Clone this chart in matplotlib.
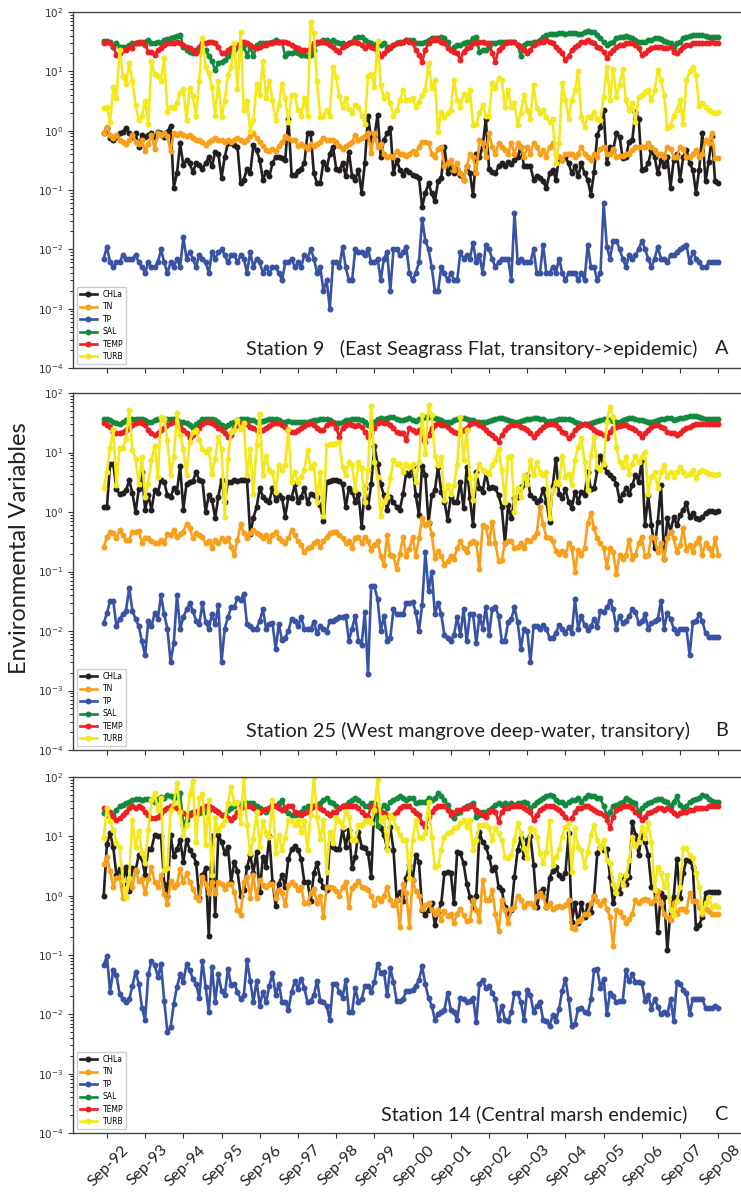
import numpy as np
import matplotlib.pyplot as plt
from matplotlib import transforms

# ---- tick labels (one per September, Sep-92 .. Sep-08) ----
years = ['92', '93', '94', '95', '96', '97', '98', '99', '00',
         '01', '02', '03', '04', '05', '06', '07', '08']
tick_labels = ['Sep-' + y for y in years]
variables = ['CHLa', 'TN', 'TP', 'SAL', 'TEMP', 'TURB']
station_titles = ['Station 9   (East Seagrass Flat, transitory->epidemic)',
                  'Station 25 (West mangrove deep-water, transitory)',
                  'Station 14 (Central marsh endemic)']
panel_letters = ['A', 'B', 'C']

# ---- monthly series, Aug-92 .. Sep-08 (one row = Aug..Jul) ----
# Station 9
chla_a = [0.9, 1.1, 0.74, 0.7, 0.79, 0.9, 0.96, 1.1, 0.9, 0.79, 0.9, 0.54,
          0.85, 0.79, 0.85, 0.9, 0.79, 0.96, 0.9, 0.79, 0.96, 1.2, 0.11, 0.19,
          0.61, 0.26, 0.32, 0.28, 0.2, 0.28, 0.26, 0.23, 0.28, 0.36, 0.25, 0.44,
          0.41, 0.16, 0.36, 0.61, 0.61, 0.57, 0.54, 0.13, 0.15, 0.23, 0.19, 0.57,
          0.47, 0.32, 0.15, 0.2, 0.17, 0.28, 0.36, 0.36, 0.34, 0.32, 1.6, 0.18,
          0.18, 0.21, 0.23, 0.28, 0.9, 0.9, 0.19, 0.13, 0.13, 0.3, 0.23, 0.41,
          0.54, 0.23, 0.22, 0.28, 0.17, 0.44, 0.17, 0.15, 0.22, 0.09, 0.28, 1.8,
          0.7, 0.79, 1.84, 0.36, 0.7, 0.9, 1.1, 0.19, 0.32, 0.22, 0.18, 0.22,
          0.2, 0.18, 0.17, 0.16, 0.052, 0.088, 0.13, 0.088, 0.064, 0.14, 0.16, 0.54,
          0.19, 0.25, 0.19, 0.23, 0.18, 0.15, 0.25, 0.19, 0.082, 0.41, 0.36, 0.54,
          1.6, 0.23, 0.2, 0.19, 0.25, 0.28, 0.25, 0.3, 0.27, 0.32, 0.36, 0.54,
          0.25, 0.25, 0.25, 0.15, 0.17, 0.16, 0.14, 0.107, 0.19, 0.22, 0.15, 0.36,
          0.32, 0.36, 0.28, 0.19, 0.25, 0.17, 0.28, 0.19, 0.15, 0.082, 0.2, 0.85,
          1.17, 2.2, 0.28, 0.54, 0.47, 0.9, 0.79, 0.34, 0.36, 0.65, 0.7, 2.1,
          1.6, 0.22, 0.23, 0.28, 0.47, 0.36, 0.19, 0.32, 0.25, 0.36, 0.11, 0.32,
          0.41, 0.15, 0.36, 0.47, 0.28, 0.22, 0.09, 0.22, 0.9, 0.14, 0.3, 0.8,
          0.14, 0.13]
tn_a = [0.9, 1.15, 0.85, 0.75, 0.85, 0.7, 0.65, 0.6, 0.7, 0.85, 0.65, 0.6,
        0.7, 0.45, 0.6, 0.85, 0.5, 0.9, 0.85, 0.9, 0.8, 0.45, 0.9, 0.85,
        0.9, 0.85, 0.8, 0.85, 0.75, 0.7, 0.7, 0.65, 0.57, 0.65, 0.7, 0.75,
        0.7, 0.7, 0.65, 0.7, 0.65, 0.7, 0.75, 0.7, 0.65, 0.7, 0.8, 0.9,
        0.75, 0.65, 0.55, 0.48, 0.45, 0.5, 0.45, 0.55, 0.65, 0.8, 0.75, 0.7,
        0.7, 0.55, 0.6, 0.55, 0.5, 0.6, 0.55, 0.6, 0.65, 0.75, 0.7, 0.7,
        0.7, 0.65, 0.55, 0.5, 0.55, 0.6, 0.65, 0.85, 0.7, 0.75, 0.8, 0.9,
        0.42, 0.9, 0.54, 0.6, 0.41, 0.36, 0.38, 0.36, 0.45, 0.41, 0.41, 0.38,
        0.41, 0.45, 0.41, 0.54, 0.65, 0.65, 0.61, 0.41, 0.36, 0.5, 0.54, 0.25,
        0.28, 0.32, 0.22, 0.28, 0.19, 0.15, 0.25, 0.41, 0.36, 0.19, 0.7, 0.61,
        0.36, 0.9, 0.54, 0.41, 0.61, 0.54, 0.47, 0.41, 0.61, 0.41, 0.61, 0.54,
        0.36, 0.54, 0.41, 0.61, 0.54, 0.41, 0.47, 0.36, 0.54, 0.61, 0.41, 0.36,
        0.32, 0.41, 0.41, 0.41, 0.36, 0.41, 0.54, 0.41, 0.36, 0.32, 0.41, 0.36,
        0.5, 0.54, 0.41, 0.4, 0.5, 0.36, 0.38, 0.38, 0.41, 0.41, 0.47, 0.54,
        0.54, 0.54, 0.54, 0.61, 0.54, 0.47, 0.41, 0.41, 0.36, 0.54, 0.5, 0.36,
        0.36, 0.54, 0.5, 0.36, 0.36, 0.41, 0.47, 0.36, 0.41, 0.7, 0.61, 0.9,
        0.34, 0.34]
tp_a = [0.007, 0.011, 0.006, 0.005, 0.006, 0.006, 0.008, 0.007, 0.007, 0.007, 0.008, 0.006,
        0.005, 0.004, 0.006, 0.005, 0.005, 0.006, 0.010, 0.006, 0.004, 0.006, 0.005, 0.007,
        0.005, 0.016, 0.007, 0.009, 0.007, 0.005, 0.008, 0.007, 0.006, 0.004, 0.009, 0.007,
        0.009, 0.010, 0.008, 0.006, 0.008, 0.008, 0.006, 0.008, 0.007, 0.004, 0.009, 0.005,
        0.007, 0.006, 0.004, 0.005, 0.004, 0.005, 0.005, 0.004, 0.003, 0.006, 0.006, 0.007,
        0.005, 0.006, 0.005, 0.008, 0.007, 0.010, 0.007, 0.004, 0.005, 0.002, 0.003, 0.001,
        0.006, 0.006, 0.005, 0.011, 0.005, 0.003, 0.003, 0.010, 0.009, 0.009, 0.008, 0.010,
        0.006, 0.006, 0.007, 0.003, 0.007, 0.009, 0.002, 0.010, 0.010, 0.008, 0.009, 0.011,
        0.004, 0.003, 0.004, 0.006, 0.033, 0.014, 0.010, 0.005, 0.002, 0.002, 0.005, 0.004,
        0.003, 0.004, 0.003, 0.003, 0.009, 0.007, 0.008, 0.007, 0.013, 0.006, 0.008, 0.004,
        0.012, 0.010, 0.007, 0.005, 0.006, 0.007, 0.007, 0.007, 0.003, 0.041, 0.006, 0.007,
        0.006, 0.006, 0.006, 0.010, 0.004, 0.004, 0.012, 0.004, 0.004, 0.005, 0.004, 0.007,
        0.004, 0.003, 0.004, 0.004, 0.004, 0.003, 0.004, 0.003, 0.012, 0.005, 0.005, 0.003,
        0.004, 0.060, 0.011, 0.007, 0.014, 0.014, 0.010, 0.007, 0.005, 0.008, 0.007, 0.008,
        0.010, 0.014, 0.010, 0.007, 0.005, 0.007, 0.011, 0.007, 0.007, 0.006, 0.008, 0.008,
        0.009, 0.010, 0.011, 0.012, 0.006, 0.009, 0.007, 0.006, 0.005, 0.005, 0.006, 0.006,
        0.006, 0.006]
sal_a = [33, 33, 31, 26, 30, 26, 26, 26, 28, 30.5, 30, 30.5,
         30, 31.5, 34, 30.5, 30.5, 31.5, 30.5, 34, 35, 36, 38, 39,
         41, 26, 23, 21.5, 20, 23, 23, 23, 23, 18, 15, 10.5,
         13.6, 14.5, 15.5, 18, 20, 23, 26, 24.5, 28, 18, 26, 18,
         28, 30, 30, 30, 30, 31.5, 34, 31.5, 31.5, 18, 20, 20,
         21.5, 20, 19, 19, 18, 19, 23, 30, 31.5, 34, 34, 31.5,
         34, 31.5, 30.5, 30, 28, 30, 31.5, 36, 38, 38, 34, 31.5,
         30, 28, 31.5, 28, 30, 26, 24.5, 28, 30, 31.5, 31.5, 34,
         34, 34, 30, 30, 30, 31.5, 34, 36, 34, 36, 38, 36,
         31.5, 23, 26, 28, 28, 30, 31.5, 31.5, 36, 38, 21.5, 23,
         23, 26, 30, 30, 31.5, 31.5, 31.5, 31.5, 31.5, 31.5, 28, 18,
         28, 30, 30, 31.5, 31.5, 34, 38, 41, 42, 42, 43, 44,
         44, 43, 44, 44, 44, 43, 43, 46, 48.5, 46, 46, 41,
         36, 31.5, 28, 30, 31.5, 36, 38, 38, 39, 38, 36, 34,
         31.5, 31.5, 31.5, 34, 34, 36, 36, 34.5, 33, 31.5, 30, 26,
         30, 31.5, 36, 38, 39, 41, 41, 41, 41, 39, 38, 38,
         38, 38]
temp_a = [30, 31.5, 30, 26, 19, 20, 23, 23, 26, 24.5, 30, 31.5,
          31.5, 28, 21.5, 21.5, 19, 23, 24.5, 28, 30, 30, 30.5, 31.5,
          30.5, 28, 26, 24.5, 23, 20, 26, 30, 30.5, 31.5, 31.5, 30,
          26, 20, 20, 23, 24.5, 26, 28, 30, 31.5, 30, 28, 26,
          24.5, 26, 28, 28, 30, 30, 31.5, 31.5, 31.5, 31.5, 30, 28,
          26, 24.5, 23, 23, 23, 24.5, 30, 31.5, 31.5, 31.5, 30.5, 28,
          26, 23, 21.5, 26, 28, 30, 31.5, 31.5, 30, 28, 24.5, 28,
          26, 24.5, 20, 18, 20, 23, 26, 28, 30, 30.5, 31.5, 34,
          31.5, 30, 23, 19, 14.5, 23, 30, 34, 36, 34, 31.5, 30,
          24.5, 23, 21.5, 20, 15.5, 21.5, 24.5, 26, 30, 30, 31.5, 31.5,
          30, 30, 20, 14.5, 23, 26, 30, 31.5, 31.5, 31.5, 28, 26,
          23, 20, 23, 28, 30, 31.5, 31.5, 34, 31.5, 30, 26, 23,
          20, 15.5, 18, 23, 26, 28, 31.5, 31.5, 34, 31.5, 30, 26,
          24.5, 21.5, 17, 20, 23, 26, 28, 28, 30, 30, 30.5, 28,
          24.5, 19, 20, 23, 24.5, 26, 26, 26, 24.5, 24.5, 26, 21.5,
          20, 23, 26, 28, 28, 30, 30, 30.5, 30, 30, 30.5, 31,
          30, 30]
turb_a = [2.4, 2.5, 1.4, 5.5, 3.5, 23, 8.5, 6, 14, 7, 2.7, 1.5,
          1.8, 3.2, 1.3, 15, 9, 8.5, 7, 17, 2.1, 2.5, 2.4, 2.9,
          4.3, 5, 1.5, 5.2, 3.8, 1.8, 7, 36, 12, 9.2, 5.5, 1.8,
          7, 1.7, 3.2, 8.6, 12, 30, 5, 46, 2.2, 3.2, 1.0, 1.5,
          6, 4, 15, 3.5, 7, 3.3, 1.5, 2.7, 6, 3.5, 1.4, 4,
          4, 2.2, 1.8, 3.5, 1.8, 68, 44, 6.8, 1.7, 1.8, 2.2, 1.8,
          12, 8, 3.8, 2.5, 3.5, 2.3, 2.0, 2.7, 2.5, 1.8, 1.3, 8.5,
          9, 5.5, 33, 5.9, 3.5, 4.2, 2.9, 1.8, 2.2, 3.3, 4.8, 3.3,
          3.3, 3.5, 2.5, 3.1, 4.0, 4.8, 14, 5.2, 7.1, 0.96, 2.1, 1.7,
          1.95, 2.2, 7.1, 3.3, 2.5, 4.2, 3.3, 4.8, 1.25, 1.3, 1.95, 2.7,
          1.8, 1.8, 6.3, 5.2, 7.6, 7.1, 2.5, 4.8, 2.5, 2.9, 1.25, 2.0,
          4.0, 2.2, 1.6, 5.8, 2.4, 1.95, 2.2, 1.7, 1.4, 1.6, 0.28, 0.61,
          6.3, 3.3, 1.6, 3.3, 4.8, 10, 1.7, 1.17, 1.7, 1.7, 2.1, 1.6,
          1.5, 3.7, 12, 3.3, 11, 3.7, 5.9, 11, 3.3, 2.2, 2.9, 1.4,
          3.7, 4.0, 4.5, 4.8, 3.3, 4.8, 10.5, 7.1, 4.0, 1.1, 1.2, 1.8,
          2.2, 3.3, 1.3, 7.1, 10, 12, 8.7, 2.6, 2.9, 2.5, 2.2, 2.1,
          2.0, 2.1]

# Station 25
chla_b = [1.2, 1.2, 6.3, 6.3, 2.4, 2.0, 2.1, 2.3, 3.4, 2.1, 1.0, 2.4,
          4.7, 1.1, 1.9, 1.1, 2.3, 2.1, 3.5, 3.2, 1.9, 1.8, 2.5, 2.2,
          6.0, 1.1, 3.0, 3.2, 3.3, 4.7, 3.4, 3.3, 1.0, 1.9, 1.6, 0.8,
          1.8, 3.5, 1.5, 3.2, 3.2, 3.5, 3.3, 3.5, 3.4, 3.5, 0.42, 0.8,
          1.2, 2.5, 1.8, 1.6, 1.5, 2.5, 1.6, 1.9, 1.7, 0.84, 1.8, 1.7,
          2.9, 1.5, 1.8, 2.5, 1.4, 2.0, 1.9, 1.8, 1.3, 0.7, 3.2, 3.3,
          3.4, 3.4, 3.3, 2.9, 1.2, 2.5, 2.2, 1.5, 2.0, 0.57, 2.5, 1.2,
          2.9, 13, 6.5, 2.9, 1.9, 1.1, 1.8, 1.5, 1.2, 1.1, 2.0, 4.6,
          4.2, 6.0, 1.9, 0.89, 6.0, 4.2, 0.65, 1.9, 2.3, 5.7, 2.2, 1.5,
          0.74, 1.8, 1.5, 1.5, 3.2, 1.15, 5.7, 1.7, 0.6, 4.7, 2.5, 2.2,
          4.5, 2.5, 2.6, 2.5, 1.9, 1.2, 0.3, 1.3, 0.78, 1.7, 1.8, 2.6,
          2.9, 4.2, 1.9, 1.7, 1.5, 1.6, 2.4, 1.5, 0.69, 2.7, 7.9, 2.0,
          1.7, 2.4, 1.5, 1.15, 2.2, 1.5, 2.2, 1.9, 4.7, 2.4, 2.5, 5.0,
          8.9, 6.0, 4.7, 4.2, 3.7, 3.0, 1.6, 2.0, 2.5, 2.0, 2.8, 4.2,
          3.2, 7.5, 0.6, 1.9, 0.6, 0.25, 0.69, 2.8, 0.165, 0.78, 0.47, 0.82,
          0.6, 0.89, 1.1, 1.4, 0.82, 0.96, 0.78, 0.77, 0.82, 0.96, 1.05, 1.05,
          1.0, 1.05]
tn_b = [0.26, 0.38, 0.47, 0.44, 0.36, 0.5, 0.41, 0.34, 0.34, 0.47, 0.47, 0.48,
        0.3, 0.36, 0.36, 0.32, 0.3, 0.3, 0.34, 0.3, 0.42, 0.41, 0.49, 0.38,
        0.42, 0.47, 0.63, 0.53, 0.36, 0.44, 0.41, 0.38, 0.3, 0.32, 0.25, 0.34,
        0.3, 0.36, 0.32, 0.36, 0.26, 0.19, 0.34, 0.63, 0.44, 0.36, 0.44, 0.5,
        0.44, 0.41, 0.36, 0.41, 0.32, 0.41, 0.47, 0.36, 0.32, 0.3, 0.36, 0.5,
        0.41, 0.32, 0.28, 0.21, 0.25, 0.26, 0.3, 0.32, 0.26, 0.32, 0.38, 0.44,
        0.47, 0.47, 0.41, 0.36, 0.3, 0.32, 0.25, 0.36, 0.38, 0.3, 0.38, 0.32,
        0.23, 0.28, 0.32, 0.18, 0.13, 0.41, 0.19, 0.18, 0.11, 0.2, 0.38, 0.18,
        0.24, 0.38, 0.18, 0.36, 0.78, 0.6, 0.69, 0.43, 0.17, 0.22, 0.18, 0.13,
        0.15, 0.18, 0.165, 0.25, 0.32, 0.25, 0.21, 0.3, 0.32, 0.3, 0.11, 0.6,
        0.57, 0.3, 0.69, 0.3, 0.15, 0.155, 0.3, 0.32, 0.32, 0.25, 0.26, 0.3,
        0.25, 0.34, 0.32, 0.38, 0.44, 1.2, 0.62, 0.38, 0.36, 0.32, 0.22, 0.2,
        0.22, 0.19, 0.3, 0.25, 0.1, 0.23, 0.19, 0.25, 0.65, 0.95, 0.53, 0.36,
        0.3, 0.25, 0.12, 0.25, 0.21, 0.09, 0.19, 0.165, 0.19, 0.34, 0.165, 0.19,
        0.3, 0.38, 0.18, 0.19, 0.38, 0.36, 0.21, 0.3, 0.165, 0.36, 0.47, 0.36,
        0.21, 0.28, 0.53, 0.23, 0.28, 0.21, 0.3, 0.36, 0.19, 0.3, 0.25, 0.19,
        0.36, 0.19]
tp_b = [0.0135, 0.02, 0.032, 0.032, 0.012, 0.016, 0.019, 0.022, 0.053, 0.022, 0.016, 0.012,
        0.0067, 0.0039, 0.015, 0.012, 0.02, 0.016, 0.04, 0.019, 0.011, 0.003, 0.0063, 0.04,
        0.011, 0.017, 0.023, 0.029, 0.022, 0.015, 0.013, 0.029, 0.014, 0.011, 0.019, 0.013,
        0.027, 0.003, 0.011, 0.017, 0.025, 0.025, 0.036, 0.033, 0.042, 0.013, 0.012, 0.011,
        0.011, 0.015, 0.023, 0.011, 0.013, 0.0135, 0.005, 0.013, 0.007, 0.0077, 0.010, 0.016,
        0.015, 0.012, 0.017, 0.011, 0.011, 0.011, 0.014, 0.0093, 0.012, 0.011, 0.0096, 0.015,
        0.015, 0.016, 0.017, 0.017, 0.018, 0.0069, 0.011, 0.018, 0.0069, 0.0059, 0.021, 0.0019,
        0.058, 0.057, 0.034, 0.01, 0.018, 0.0069, 0.0077, 0.023, 0.019, 0.019, 0.019, 0.029,
        0.029, 0.031, 0.021, 0.01, 0.027, 0.21, 0.047, 0.1, 0.019, 0.03, 0.019, 0.0086,
        0.0077, 0.0067, 0.0086, 0.017, 0.0086, 0.023, 0.0067, 0.019, 0.019, 0.0062, 0.018, 0.011,
        0.025, 0.0086, 0.023, 0.025, 0.018, 0.0069, 0.0069, 0.014, 0.016, 0.025, 0.014, 0.005,
        0.011, 0.01, 0.003, 0.012, 0.012, 0.011, 0.0125, 0.011, 0.0077, 0.0077, 0.0093, 0.0125,
        0.011, 0.0093, 0.0115, 0.0093, 0.034, 0.011, 0.018, 0.0125, 0.0105, 0.012, 0.016, 0.0115,
        0.022, 0.021, 0.025, 0.032, 0.023, 0.011, 0.018, 0.0135, 0.0145, 0.018, 0.023, 0.021,
        0.0135, 0.0145, 0.019, 0.011, 0.0135, 0.0145, 0.016, 0.032, 0.011, 0.02, 0.016, 0.011,
        0.0093, 0.011, 0.011, 0.011, 0.0039, 0.014, 0.0145, 0.019, 0.0145, 0.0093, 0.008, 0.008,
        0.008, 0.008]
sal_b = [36, 36, 35, 33, 31, 30, 32, 35, 35, 37, 37, 37,
         36.5, 35, 33, 33, 35, 37, 37, 36.5, 37, 37, 36.5, 35,
         33, 33, 31, 29, 25.5, 30, 33, 36, 37, 37, 36.5, 35,
         33, 29, 27, 29, 31, 33, 35, 37, 37, 36.5, 35, 35,
         33, 33, 34, 35, 37, 36.5, 37, 35, 33, 33, 34, 33,
         33, 32, 32, 32, 33, 34, 35, 35, 36, 37, 36.5, 35,
         33, 31, 31, 33, 35, 35, 37, 36.5, 37, 35, 33, 29,
         31, 33, 37, 38, 37, 38, 40, 40, 37, 35, 35, 36,
         38, 35, 34, 36, 38, 40, 40, 40, 38, 37, 35, 33,
         33, 33, 35, 37, 38, 38, 37, 35, 35, 33, 33, 33,
         33, 34, 35, 37, 38, 38, 37, 35, 34, 33, 33, 34,
         35, 37, 37, 38, 38, 37, 36, 34, 34, 34, 35, 37,
         37, 37, 36, 35, 33, 31, 30, 30, 30, 31, 33, 34,
         35, 36, 37, 35, 34, 33, 33, 35, 37, 38, 38, 37,
         35, 35, 34, 33, 33, 34, 35, 36, 37, 38, 38, 35,
         37, 38, 38, 40, 41.5, 41.5, 41.5, 40, 38, 37, 37, 37,
         37, 37]
temp_b = [31, 29, 27, 22, 21, 21, 22, 24, 25.5, 29, 31, 33,
          31, 29, 24, 21, 19.6, 21, 24, 25.5, 29, 31, 33, 31,
          27, 24, 21, 17.3, 19.6, 22, 25.5, 29.6, 32, 32, 31, 29,
          25.5, 24, 21, 18.4, 20, 25.5, 29, 31, 31, 30, 27, 25.5,
          24, 23, 24, 25.5, 28, 30, 31, 31, 29, 27, 24, 22,
          22, 24, 25.5, 28, 30, 31, 29, 25.5, 24, 24, 29, 31,
          31, 25.5, 18.4, 25.5, 29, 30, 29, 28, 29, 27, 22, 18.4,
          21, 25.5, 31, 33, 31, 31, 29, 25.5, 22, 21, 21, 16.2,
          25.5, 23.8, 22.3, 23.8, 17.3, 15.2, 19.6, 25.5, 29, 31, 29, 29,
          27, 24, 22, 21, 21, 24, 25.5, 30, 31, 31, 29, 27,
          24, 21, 19.6, 17.3, 15.2, 19.6, 24, 27, 29, 29, 29, 27,
          25.5, 24, 21, 18.4, 21, 24, 27, 29, 30, 30, 29, 25.5,
          22.3, 21, 17.3, 19.6, 24, 27, 29, 30, 29, 27, 24, 22,
          21, 19.6, 17.3, 22, 25.5, 27, 28, 29, 29, 27, 25.5, 24,
          21, 18.4, 21, 24, 27, 29, 29, 27, 25.5, 22, 21, 21,
          19.6, 21, 24, 25.5, 27, 29, 30, 30, 30, 30, 30, 30,
          30, 30]
turb_b = [2.5, 4.7, 12, 25, 2.8, 12, 12, 17, 52, 11, 7.9, 3.0,
          8.4, 1.8, 3.0, 7.4, 13, 3.9, 40, 37, 16, 4.2, 8.4, 46,
          19.6, 11.6, 4.2, 15.2, 22, 24, 16, 11.6, 10.2, 11.3, 4.4, 7.9,
          18.4, 11.6, 0.83, 7.9, 22, 24, 35, 25, 31, 4.2, 11.3, 2.0,
          13.3, 45, 4.2, 8.9, 5.0, 4.7, 2.2, 6.1, 5.0, 6.1, 25, 3.2,
          4.7, 3.2, 3.9, 5.0, 11, 5.4, 6.5, 1.5, 4.7, 0.87, 13.3, 14,
          14, 14.5, 15.2, 5.7, 4.2, 6.9, 6.1, 2.3, 6.9, 5.4, 1.5, 5.0,
          61, 6.9, 3.9, 0.87, 1.5, 1.8, 3.7, 7.4, 6.5, 6.5, 4.7, 6.5,
          5.7, 6.5, 3.2, 6.9, 43, 9.5, 63, 43, 8.9, 6.1, 8.4, 1.6,
          2.8, 2.0, 2.8, 6.1, 40, 7.4, 24, 3.7, 1.6, 4.2, 6.5, 5.0,
          4.7, 4.4, 6.1, 7.4, 11.6, 5.0, 1.5, 8.4, 8.9, 1.0, 2.5, 1.8,
          4.2, 3.0, 7.4, 4.2, 6.9, 4.7, 4.2, 4.7, 0.78, 2.3, 3.2, 3.0,
          8.9, 3.9, 4.4, 2.8, 7.4, 12.4, 17.3, 6.9, 2.3, 8.9, 18.4, 5.7,
          5.0, 6.5, 33, 59, 40, 12.4, 6.9, 5.7, 8.4, 4.4, 6.5, 8.9,
          6.9, 8.4, 10.2, 2.0, 3.9, 4.7, 2.5, 4.7, 6.1, 3.9, 4.7, 3.9,
          4.7, 5.7, 4.7, 4.2, 4.4, 5.0, 3.7, 4.7, 5.0, 4.7, 4.4, 4.4,
          4.2, 4.4]

# Station 14
chla_c = [1.0, 7.4, 11.5, 6.5, 2.2, 2.8, 1.6, 3.1, 1.2, 2.9, 2.6, 4.9,
          4.3, 2.2, 6.2, 6.2, 10.5, 10, 10, 1.6, 1.0, 10.5, 4.6, 6.0,
          8.7, 3.7, 8.7, 5.9, 4.9, 3.6, 0.9, 2.2, 2.9, 0.21, 10, 0.48,
          10.5, 8.1, 5.2, 6.7, 1.7, 3.7, 2.6, 1.0, 1.24, 3.0, 4.9, 2.4,
          5.5, 1.17, 4.5, 3.1, 10, 1.7, 0.68, 1.6, 2.2, 1.42, 4.2, 6.0,
          6.8, 5.9, 4.2, 1.7, 1.7, 0.8, 2.4, 3.6, 1.84, 1.42, 1.24, 7.4,
          6.5, 6.2, 6.2, 13.3, 6.7, 13, 2.9, 4.5, 12, 6.7, 6.3, 5.2,
          2.1, 36, 26, 13.6, 10.5, 6.3, 14.5, 5.9, 0.86, 1.17, 0.8, 2.0,
          3.3, 1.84, 4.9, 3.7, 0.57, 0.48, 0.57, 0.74, 0.32, 0.53, 0.74, 2.4,
          2.5, 2.4, 0.74, 5.5, 5.2, 3.5, 1.6, 0.96, 0.65, 1.0, 12, 8.0,
          6.7, 4.5, 2.7, 3.1, 1.42, 1.24, 0.65, 0.5, 0.57, 2.1, 5.9, 9.2,
          4.5, 8.7, 10, 3.3, 0.65, 1.17, 1.3, 0.65, 2.0, 2.6, 3.1, 2.2,
          2.0, 2.4, 11.2, 0.36, 0.74, 0.34, 0.74, 0.44, 0.7, 0.53, 1.0, 5.2,
          6.7, 5.9, 6.2, 2.1, 0.74, 1.24, 1.09, 2.1, 1.6, 2.1, 17.5, 10.5,
          4.9, 10.5, 8.1, 4.9, 1.42, 1.24, 0.24, 1.1, 0.95, 0.12, 0.57, 0.95,
          4.2, 0.9, 2.4, 4.0, 3.8, 3.1, 0.28, 0.32, 0.44, 1.09, 1.17, 1.15,
          1.17, 1.15]
tn_c = [3.4, 4.4, 2.6, 1.4, 2.0, 2.1, 0.9, 0.95, 1.7, 1.4, 2.7, 1.8,
        1.9, 1.1, 1.9, 3.0, 1.7, 1.4, 2.2, 1.05, 0.72, 1.8, 1.4, 1.6,
        2.8, 1.7, 2.4, 1.7, 1.3, 0.95, 0.85, 2.1, 1.6, 1.1, 1.7, 1.1,
        1.7, 1.6, 1.3, 1.6, 1.6, 1.15, 0.57, 0.47, 1.7, 2.1, 0.93, 2.2,
        0.9, 1.85, 1.5, 1.4, 1.6, 1.6, 0.93, 1.24, 1.09, 0.7, 1.5, 1.7,
        1.5, 1.24, 1.4, 0.75, 0.75, 1.09, 1.3, 0.75, 1.0, 0.44, 1.4, 1.4,
        1.35, 1.2, 1.0, 1.4, 1.7, 0.65, 1.35, 1.5, 1.8, 1.4, 1.35, 1.24,
        1.0, 0.7, 0.9, 0.8, 1.0, 1.4, 0.84, 0.7, 0.84, 0.3, 1.6, 1.09,
        0.3, 1.84, 1.2, 1.0, 0.6, 0.7, 0.74, 0.57, 0.5, 0.57, 0.39, 0.55,
        0.45, 0.5, 0.35, 0.5, 0.6, 0.47, 0.37, 0.39, 0.84, 0.57, 0.37, 1.84,
        0.84, 0.84, 1.24, 0.5, 0.25, 0.84, 0.57, 0.34, 0.6, 0.65, 1.0, 0.84,
        0.65, 0.74, 0.74, 0.65, 1.0, 1.09, 0.95, 0.65, 0.74, 0.6, 0.65, 0.68,
        0.65, 0.7, 0.84, 0.28, 0.27, 0.38, 0.4, 0.5, 0.5, 0.74, 1.0, 0.8,
        0.7, 0.84, 0.6, 0.43, 0.14, 0.57, 0.53, 0.44, 0.35, 0.4, 0.5, 0.84,
        0.74, 0.84, 0.88, 0.84, 0.74, 0.84, 1.2, 0.74, 0.5, 0.44, 0.39, 0.74,
        0.5, 0.6, 0.6, 0.55, 1.1, 0.8, 0.8, 0.65, 0.5, 0.6, 0.55, 0.5,
        0.5, 0.5]
tp_c = [0.067, 0.096, 0.024, 0.056, 0.046, 0.022, 0.018, 0.016, 0.018, 0.03, 0.052, 0.033,
        0.013, 0.008, 0.047, 0.08, 0.067, 0.043, 0.07, 0.017, 0.005, 0.006, 0.015, 0.029,
        0.047, 0.035, 0.07, 0.055, 0.04, 0.033, 0.019, 0.08, 0.029, 0.011, 0.063, 0.016,
        0.047, 0.025, 0.021, 0.058, 0.031, 0.033, 0.024, 0.018, 0.021, 0.082, 0.037, 0.016,
        0.037, 0.014, 0.024, 0.016, 0.03, 0.049, 0.021, 0.033, 0.016, 0.016, 0.012, 0.024,
        0.036, 0.027, 0.04, 0.028, 0.016, 0.017, 0.021, 0.037, 0.017, 0.016, 0.014, 0.008,
        0.032, 0.032, 0.024, 0.019, 0.038, 0.011, 0.011, 0.028, 0.016, 0.018, 0.03, 0.03,
        0.024, 0.035, 0.07, 0.05, 0.052, 0.021, 0.06, 0.035, 0.017, 0.017, 0.018, 0.025,
        0.025, 0.026, 0.03, 0.038, 0.064, 0.032, 0.019, 0.014, 0.0081, 0.01, 0.011, 0.012,
        0.023, 0.012, 0.011, 0.0081, 0.019, 0.018, 0.016, 0.017, 0.019, 0.0073, 0.033, 0.038,
        0.028, 0.03, 0.023, 0.018, 0.0081, 0.014, 0.0081, 0.0077, 0.011, 0.023, 0.023, 0.016,
        0.0081, 0.026, 0.021, 0.011, 0.014, 0.016, 0.0081, 0.0077, 0.0063, 0.0097, 0.0077, 0.0125,
        0.025, 0.04, 0.018, 0.0063, 0.007, 0.0125, 0.013, 0.011, 0.0104, 0.018, 0.055, 0.058,
        0.028, 0.04, 0.01, 0.023, 0.02, 0.016, 0.017, 0.017, 0.055, 0.036, 0.047, 0.035,
        0.035, 0.034, 0.017, 0.021, 0.0125, 0.018, 0.0135, 0.01, 0.011, 0.01, 0.018, 0.0077,
        0.035, 0.032, 0.026, 0.023, 0.01, 0.018, 0.018, 0.018, 0.018, 0.013, 0.013, 0.013,
        0.014, 0.013]
sal_c = [25, 23, 23, 23, 28, 32, 34, 36, 38, 41, 42, 42,
         41, 43, 43, 41, 38, 43, 46, 44, 50, 47, 44, 50,
         53, 15.5, 19, 25, 26, 26, 25, 26, 26, 27.5, 30, 28,
         26, 23, 23, 28, 30, 32, 34, 35, 36, 37, 37, 36,
         32, 30, 28, 26, 30, 34, 32, 36, 41, 28, 25, 23,
         23, 23, 26, 30, 32, 30, 32, 34, 36, 41, 44, 38,
         36, 32, 30, 32, 34, 38, 41, 44, 41, 36, 32, 32,
         36, 34, 15, 26, 34, 30, 38, 41, 44, 47, 44, 41,
         44, 44, 36, 38, 38, 38, 44, 41, 44, 53, 47, 41,
         34, 26, 20, 25, 26, 30, 32, 34, 36, 21.5, 23, 26,
         26, 28, 30, 34, 36, 34, 36, 34, 36, 34, 36, 36,
         38, 36, 30, 34, 38, 41, 44, 47, 50, 47, 41, 38,
         38, 34, 38, 41, 41, 44, 38, 44, 50, 48, 47, 44,
         44, 32, 23, 26, 32, 34, 36, 38, 44, 41, 38, 36,
         26, 30, 34, 36, 38, 41, 43, 43, 40, 38, 32, 38,
         47, 34, 30, 32, 38, 41, 43, 44, 50, 47, 43, 40,
         38, 38]
temp_c = [30, 28, 26, 21.5, 19, 20, 23, 26, 30, 32, 30, 32,
          30, 26, 23, 20, 20, 21.5, 25, 28, 30, 32, 32, 30,
          26, 25, 23, 23, 25, 26, 28, 30, 32, 32, 30, 28,
          26, 23, 21.5, 20, 19, 21.5, 26, 30, 32, 33, 32, 30,
          26, 26, 28, 29, 30, 32, 32, 30, 28, 30, 32, 32,
          26, 25, 23, 25, 26, 30, 32, 32, 30, 28, 25, 23,
          26, 26, 30, 32, 32, 32, 33, 33, 30, 26, 23, 21.5,
          33, 32, 28, 26, 25, 23, 21.5, 23, 26, 30, 32, 32,
          32, 28, 25, 23, 16.5, 14.5, 21.5, 26, 30, 32, 32, 32,
          28, 23, 25, 28, 28, 30, 30, 32, 32, 28, 26, 23,
          21.5, 26, 28, 26, 17.5, 26, 30, 30, 32, 32, 32, 32,
          30, 28, 26, 19, 23, 28, 30, 32, 32, 32, 30, 28,
          25, 21.5, 18, 20, 26, 30, 30, 32, 32, 30, 28, 26,
          25, 23, 19, 13.6, 21.5, 28, 30, 32, 32, 32, 30, 26,
          23, 19, 21.5, 25, 26, 28, 30, 30, 28, 30, 28, 25,
          23, 25, 26, 26, 28, 28, 30, 30, 30, 30, 32, 32,
          32, 32]
turb_c = [9.5, 30, 18, 13, 7.8, 6.5, 1.84, 0.95, 2.0, 19, 6.7, 12.5,
          5.2, 3.5, 12.8, 41, 53, 28, 44, 2.7, 2.9, 28, 36, 80,
          26, 10.5, 15.5, 51, 86, 8.1, 44, 51, 7.2, 41, 2.2, 20,
          12.8, 15.5, 19, 36, 69, 36, 38, 16.5, 100, 15.5, 5.2, 9,
          26, 6.7, 18, 11.2, 9.9, 41, 5.2, 10.5, 5.9, 9.2, 19, 18,
          15.5, 19, 11.8, 18, 5.9, 23, 100, 21.5, 9, 19, 2.5, 12,
          7.6, 20, 18, 14.5, 26, 21.5, 8.7, 8.7, 15.5, 15.5, 18, 19,
          16.5, 28, 90, 18, 21.5, 5.9, 23, 20.5, 13.6, 10.5, 8.7, 8.7,
          2.0, 8.7, 19, 9.9, 9.2, 11.2, 38, 9.9, 3.1, 3.3, 5.9, 9.9,
          11.2, 11.8, 13.6, 14.5, 16.5, 19, 14.5, 19, 5.9, 8.7, 15.5, 15.5,
          15.5, 13.6, 8.7, 13.6, 11.2, 8.7, 4.5, 4.3, 4.8, 8.7, 16.5, 11.2,
          6.3, 4.3, 13.6, 12.8, 9.9, 5.2, 3.5, 5.5, 18, 3.3, 4.5, 6.0,
          9.9, 14.5, 16.5, 2.5, 13.6, 6.7, 5.9, 3.1, 5.5, 10.5, 15.5, 8.7,
          6.3, 8.7, 4.0, 3.5, 1.6, 1.09, 2.2, 1.5, 2.2, 4.0, 9.9, 7.0,
          8.1, 14.5, 9.2, 16.5, 8.1, 1.24, 3.1, 2.4, 1.42, 2.2, 0.57, 0.48,
          0.82, 1.42, 6.3, 6.3, 4.8, 4.3, 2.4, 1.42, 0.53, 0.74, 0.95, 0.65,
          0.7, 0.65]

panels = [
    [chla_a, tn_a, tp_a, sal_a, temp_a, turb_a],
    [chla_b, tn_b, tp_b, sal_b, temp_b, turb_b],
    [chla_c, tn_c, tp_c, sal_c, temp_c, turb_c],
]
colors = ['#231f20', '#f9a01b', '#3953a4', '#128a3e', '#ed2024', '#f3e81b']

plt.rcParams['font.family'] = ['DejaVu Sans']
fig = plt.figure(figsize=(7.41, 12), dpi=100)

W, H = 741.0, 1200.0
# (top, bottom) of each panel in pixels
boxes = [(12, 368), (393, 750), (777, 1133)]
text_y = [349, 731, 1114]
text_right = [697, 690, 687]
tick_pos = [1 + 12 * k for k in range(len(tick_labels))]

for p, (series, (top, bot)) in enumerate(zip(panels, boxes)):
    ax = fig.add_axes([73 / W, 1 - bot / H, 676 / W, (bot - top) / H])
    for name, vals, col in zip(variables, series, colors):
        ax.plot(np.arange(len(vals)), vals, '-o', color=col, lw=1.9,
                ms=4.3, mew=0, label=name)
    ax.set_yscale('log')
    ax.set_ylim(1e-4, 1e2)
    ax.set_xlim(-9.65, 202.65)
    ax.set_xticks(tick_pos)
    ax.tick_params(axis='both', direction='out', colors='#333333',
                   labelsize=7.5, length=3.5, width=0.8)
    ax.tick_params(axis='y', which='minor', length=2, width=0.6)
    for s in ax.spines.values():
        s.set_color('#444444')
        s.set_linewidth(1.0)
    if p < 2:
        ax.set_xticklabels([])
    else:
        ax.set_xticklabels(tick_labels, rotation=45, ha='center',
                           fontfamily='Lato', fontsize=11.5, color='#231f20')
        off = transforms.ScaledTranslation(2 / 100, 0, fig.dpi_scale_trans)
        for lab in ax.get_xticklabels():
            lab.set_transform(lab.get_transform() + off)
    ax.legend(loc='lower left', fontsize=5.5, handlelength=2.2,
              labelspacing=0.45, borderpad=0.4, framealpha=1,
              edgecolor='#cccccc')
    fig.text(text_right[p] / W, 1 - text_y[p] / H, station_titles[p],
             ha='right', va='center', fontsize=14.3, fontfamily='Lato',
             color='#231f20')
    fig.text(728 / W, 1 - text_y[p] / H, panel_letters[p],
             ha='right', va='center', fontsize=14.3, fontfamily='Lato',
             color='#231f20')

fig.text(20 / W, 1 - 548 / H, 'Environmental Variables', rotation=90,
         ha='center', va='center', fontsize=17, fontfamily='Lato',
         color='#231f20')

fig.savefig('out.png', dpi=100)
